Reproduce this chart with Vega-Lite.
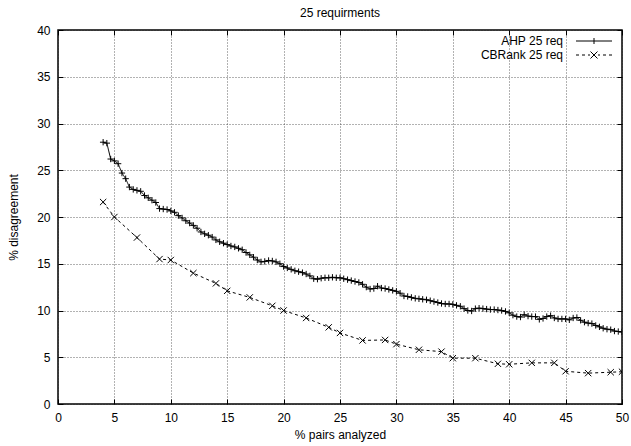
{
  "$schema": "https://vega.github.io/schema/vega-lite/v6.json",
  "width": 564,
  "height": 374,
  "autosize": "none",
  "padding": {"left": 58, "top": 30, "right": 9, "bottom": 42},
  "background": "white",
  "title": {"text": "25 requirments", "font": "Liberation Sans", "fontSize": 12, "fontWeight": "normal", "color": "black", "offset": 4, "frame": "group"},
  "config": {
    "font": "Liberation Sans",
    "view": {"stroke": "black", "strokeWidth": 1.5},
    "axis": {
      "labelFont": "Liberation Sans", "labelFontSize": 12, "labelColor": "black",
      "titleFont": "Liberation Sans", "titleFontSize": 12, "titleFontWeight": "normal", "titleColor": "black",
      "domain": false, "tickColor": "black", "tickWidth": 1, "tickSize": -5,
      "gridColor": "#222", "gridDash": [1, 2], "gridWidth": 0.7
    }
  },
  "resolve": {"scale": {"shape": "independent"}},
  "data": {"values": [
    {"x": 4.0, "y": 28.0, "s": "AHP 25 req"},
    {"x": 4.33, "y": 27.9, "s": "AHP 25 req"},
    {"x": 4.67, "y": 26.2, "s": "AHP 25 req"},
    {"x": 5.0, "y": 26.0, "s": "AHP 25 req"},
    {"x": 5.33, "y": 25.7, "s": "AHP 25 req"},
    {"x": 5.67, "y": 24.7, "s": "AHP 25 req"},
    {"x": 6.0, "y": 24.1, "s": "AHP 25 req"},
    {"x": 6.33, "y": 23.2, "s": "AHP 25 req"},
    {"x": 6.67, "y": 22.95, "s": "AHP 25 req"},
    {"x": 7.0, "y": 22.85, "s": "AHP 25 req"},
    {"x": 7.33, "y": 22.75, "s": "AHP 25 req"},
    {"x": 7.67, "y": 22.3, "s": "AHP 25 req"},
    {"x": 8.0, "y": 22.05, "s": "AHP 25 req"},
    {"x": 8.33, "y": 21.8, "s": "AHP 25 req"},
    {"x": 8.67, "y": 21.55, "s": "AHP 25 req"},
    {"x": 9.0, "y": 20.9, "s": "AHP 25 req"},
    {"x": 9.33, "y": 20.85, "s": "AHP 25 req"},
    {"x": 9.67, "y": 20.8, "s": "AHP 25 req"},
    {"x": 10.0, "y": 20.65, "s": "AHP 25 req"},
    {"x": 10.33, "y": 20.5, "s": "AHP 25 req"},
    {"x": 10.67, "y": 20.15, "s": "AHP 25 req"},
    {"x": 11.0, "y": 19.9, "s": "AHP 25 req"},
    {"x": 11.33, "y": 19.6, "s": "AHP 25 req"},
    {"x": 11.67, "y": 19.35, "s": "AHP 25 req"},
    {"x": 12.0, "y": 19.1, "s": "AHP 25 req"},
    {"x": 12.33, "y": 18.8, "s": "AHP 25 req"},
    {"x": 12.67, "y": 18.4, "s": "AHP 25 req"},
    {"x": 13.0, "y": 18.2, "s": "AHP 25 req"},
    {"x": 13.33, "y": 18.05, "s": "AHP 25 req"},
    {"x": 13.67, "y": 17.85, "s": "AHP 25 req"},
    {"x": 14.0, "y": 17.55, "s": "AHP 25 req"},
    {"x": 14.33, "y": 17.35, "s": "AHP 25 req"},
    {"x": 14.67, "y": 17.2, "s": "AHP 25 req"},
    {"x": 15.0, "y": 17.05, "s": "AHP 25 req"},
    {"x": 15.33, "y": 16.9, "s": "AHP 25 req"},
    {"x": 15.67, "y": 16.8, "s": "AHP 25 req"},
    {"x": 16.0, "y": 16.65, "s": "AHP 25 req"},
    {"x": 16.33, "y": 16.5, "s": "AHP 25 req"},
    {"x": 16.67, "y": 16.2, "s": "AHP 25 req"},
    {"x": 17.0, "y": 15.95, "s": "AHP 25 req"},
    {"x": 17.33, "y": 15.7, "s": "AHP 25 req"},
    {"x": 17.67, "y": 15.4, "s": "AHP 25 req"},
    {"x": 18.0, "y": 15.2, "s": "AHP 25 req"},
    {"x": 18.33, "y": 15.25, "s": "AHP 25 req"},
    {"x": 18.67, "y": 15.35, "s": "AHP 25 req"},
    {"x": 19.0, "y": 15.3, "s": "AHP 25 req"},
    {"x": 19.33, "y": 15.2, "s": "AHP 25 req"},
    {"x": 19.67, "y": 15.0, "s": "AHP 25 req"},
    {"x": 20.0, "y": 14.7, "s": "AHP 25 req"},
    {"x": 20.33, "y": 14.55, "s": "AHP 25 req"},
    {"x": 20.67, "y": 14.4, "s": "AHP 25 req"},
    {"x": 21.0, "y": 14.25, "s": "AHP 25 req"},
    {"x": 21.33, "y": 14.15, "s": "AHP 25 req"},
    {"x": 21.67, "y": 14.05, "s": "AHP 25 req"},
    {"x": 22.0, "y": 13.9, "s": "AHP 25 req"},
    {"x": 22.33, "y": 13.7, "s": "AHP 25 req"},
    {"x": 22.67, "y": 13.4, "s": "AHP 25 req"},
    {"x": 23.0, "y": 13.35, "s": "AHP 25 req"},
    {"x": 23.33, "y": 13.45, "s": "AHP 25 req"},
    {"x": 23.67, "y": 13.5, "s": "AHP 25 req"},
    {"x": 24.0, "y": 13.5, "s": "AHP 25 req"},
    {"x": 24.33, "y": 13.55, "s": "AHP 25 req"},
    {"x": 24.67, "y": 13.5, "s": "AHP 25 req"},
    {"x": 25.0, "y": 13.5, "s": "AHP 25 req"},
    {"x": 25.33, "y": 13.4, "s": "AHP 25 req"},
    {"x": 25.67, "y": 13.3, "s": "AHP 25 req"},
    {"x": 26.0, "y": 13.2, "s": "AHP 25 req"},
    {"x": 26.33, "y": 13.1, "s": "AHP 25 req"},
    {"x": 26.67, "y": 13.0, "s": "AHP 25 req"},
    {"x": 27.0, "y": 12.8, "s": "AHP 25 req"},
    {"x": 27.33, "y": 12.5, "s": "AHP 25 req"},
    {"x": 27.67, "y": 12.3, "s": "AHP 25 req"},
    {"x": 28.0, "y": 12.35, "s": "AHP 25 req"},
    {"x": 28.33, "y": 12.6, "s": "AHP 25 req"},
    {"x": 28.67, "y": 12.4, "s": "AHP 25 req"},
    {"x": 29.0, "y": 12.35, "s": "AHP 25 req"},
    {"x": 29.33, "y": 12.25, "s": "AHP 25 req"},
    {"x": 29.67, "y": 12.15, "s": "AHP 25 req"},
    {"x": 30.0, "y": 12.05, "s": "AHP 25 req"},
    {"x": 30.33, "y": 11.85, "s": "AHP 25 req"},
    {"x": 30.67, "y": 11.55, "s": "AHP 25 req"},
    {"x": 31.0, "y": 11.5, "s": "AHP 25 req"},
    {"x": 31.33, "y": 11.4, "s": "AHP 25 req"},
    {"x": 31.67, "y": 11.3, "s": "AHP 25 req"},
    {"x": 32.0, "y": 11.25, "s": "AHP 25 req"},
    {"x": 32.33, "y": 11.2, "s": "AHP 25 req"},
    {"x": 32.67, "y": 11.15, "s": "AHP 25 req"},
    {"x": 33.0, "y": 11.05, "s": "AHP 25 req"},
    {"x": 33.33, "y": 10.95, "s": "AHP 25 req"},
    {"x": 33.67, "y": 10.85, "s": "AHP 25 req"},
    {"x": 34.0, "y": 10.75, "s": "AHP 25 req"},
    {"x": 34.33, "y": 10.7, "s": "AHP 25 req"},
    {"x": 34.67, "y": 10.7, "s": "AHP 25 req"},
    {"x": 35.0, "y": 10.65, "s": "AHP 25 req"},
    {"x": 35.33, "y": 10.55, "s": "AHP 25 req"},
    {"x": 35.67, "y": 10.45, "s": "AHP 25 req"},
    {"x": 36.0, "y": 10.2, "s": "AHP 25 req"},
    {"x": 36.33, "y": 10.0, "s": "AHP 25 req"},
    {"x": 36.67, "y": 9.95, "s": "AHP 25 req"},
    {"x": 37.0, "y": 10.2, "s": "AHP 25 req"},
    {"x": 37.33, "y": 10.25, "s": "AHP 25 req"},
    {"x": 37.67, "y": 10.2, "s": "AHP 25 req"},
    {"x": 38.0, "y": 10.15, "s": "AHP 25 req"},
    {"x": 38.33, "y": 10.1, "s": "AHP 25 req"},
    {"x": 38.67, "y": 10.1, "s": "AHP 25 req"},
    {"x": 39.0, "y": 10.05, "s": "AHP 25 req"},
    {"x": 39.33, "y": 10.0, "s": "AHP 25 req"},
    {"x": 39.67, "y": 9.9, "s": "AHP 25 req"},
    {"x": 40.0, "y": 9.75, "s": "AHP 25 req"},
    {"x": 40.33, "y": 9.5, "s": "AHP 25 req"},
    {"x": 40.67, "y": 9.35, "s": "AHP 25 req"},
    {"x": 41.0, "y": 9.3, "s": "AHP 25 req"},
    {"x": 41.33, "y": 9.55, "s": "AHP 25 req"},
    {"x": 41.67, "y": 9.4, "s": "AHP 25 req"},
    {"x": 42.0, "y": 9.35, "s": "AHP 25 req"},
    {"x": 42.33, "y": 9.35, "s": "AHP 25 req"},
    {"x": 42.67, "y": 9.05, "s": "AHP 25 req"},
    {"x": 43.0, "y": 9.15, "s": "AHP 25 req"},
    {"x": 43.33, "y": 9.35, "s": "AHP 25 req"},
    {"x": 43.67, "y": 9.45, "s": "AHP 25 req"},
    {"x": 44.0, "y": 9.2, "s": "AHP 25 req"},
    {"x": 44.33, "y": 9.1, "s": "AHP 25 req"},
    {"x": 44.67, "y": 9.1, "s": "AHP 25 req"},
    {"x": 45.0, "y": 9.1, "s": "AHP 25 req"},
    {"x": 45.33, "y": 9.0, "s": "AHP 25 req"},
    {"x": 45.67, "y": 9.2, "s": "AHP 25 req"},
    {"x": 46.0, "y": 9.25, "s": "AHP 25 req"},
    {"x": 46.33, "y": 8.95, "s": "AHP 25 req"},
    {"x": 46.67, "y": 8.75, "s": "AHP 25 req"},
    {"x": 47.0, "y": 8.65, "s": "AHP 25 req"},
    {"x": 47.33, "y": 8.6, "s": "AHP 25 req"},
    {"x": 47.67, "y": 8.4, "s": "AHP 25 req"},
    {"x": 48.0, "y": 8.25, "s": "AHP 25 req"},
    {"x": 48.33, "y": 8.1, "s": "AHP 25 req"},
    {"x": 48.67, "y": 8.0, "s": "AHP 25 req"},
    {"x": 49.0, "y": 7.95, "s": "AHP 25 req"},
    {"x": 49.33, "y": 7.8, "s": "AHP 25 req"},
    {"x": 49.67, "y": 7.75, "s": "AHP 25 req"},
    {"x": 50.0, "y": 7.7, "s": "AHP 25 req"},
    {"x": 4, "y": 21.6, "s": "CBRank 25 req"},
    {"x": 5, "y": 20.0, "s": "CBRank 25 req"},
    {"x": 7, "y": 17.8, "s": "CBRank 25 req"},
    {"x": 9, "y": 15.5, "s": "CBRank 25 req"},
    {"x": 10, "y": 15.4, "s": "CBRank 25 req"},
    {"x": 12, "y": 14.0, "s": "CBRank 25 req"},
    {"x": 14, "y": 12.9, "s": "CBRank 25 req"},
    {"x": 15, "y": 12.1, "s": "CBRank 25 req"},
    {"x": 17, "y": 11.4, "s": "CBRank 25 req"},
    {"x": 19, "y": 10.5, "s": "CBRank 25 req"},
    {"x": 20, "y": 10.0, "s": "CBRank 25 req"},
    {"x": 22, "y": 9.2, "s": "CBRank 25 req"},
    {"x": 24, "y": 8.2, "s": "CBRank 25 req"},
    {"x": 25, "y": 7.6, "s": "CBRank 25 req"},
    {"x": 27, "y": 6.8, "s": "CBRank 25 req"},
    {"x": 29, "y": 6.85, "s": "CBRank 25 req"},
    {"x": 30, "y": 6.4, "s": "CBRank 25 req"},
    {"x": 32, "y": 5.8, "s": "CBRank 25 req"},
    {"x": 34, "y": 5.6, "s": "CBRank 25 req"},
    {"x": 35, "y": 4.9, "s": "CBRank 25 req"},
    {"x": 37, "y": 4.9, "s": "CBRank 25 req"},
    {"x": 39, "y": 4.3, "s": "CBRank 25 req"},
    {"x": 40, "y": 4.25, "s": "CBRank 25 req"},
    {"x": 42, "y": 4.4, "s": "CBRank 25 req"},
    {"x": 44, "y": 4.4, "s": "CBRank 25 req"},
    {"x": 45, "y": 3.5, "s": "CBRank 25 req"},
    {"x": 47, "y": 3.3, "s": "CBRank 25 req"},
    {"x": 49, "y": 3.4, "s": "CBRank 25 req"},
    {"x": 50, "y": 3.45, "s": "CBRank 25 req"}
  ]},
  "layer": [
    {
      "mark": {"type": "line", "color": "black", "strokeWidth": 1, "clip": true},
      "encoding": {
        "x": {"field": "x", "type": "quantitative", "scale": {"domain": [0, 50], "nice": false},
              "axis": {"orient": "bottom", "values": [0,5,10,15,20,25,30,35,40,45,50], "title": "% pairs analyzed", "grid": true, "labelPadding": 13, "titlePadding": 6, "labelFlush": false}},
        "y": {"field": "y", "type": "quantitative", "scale": {"domain": [0, 40], "nice": false},
              "axis": {"orient": "left", "values": [0,5,10,15,20,25,30,35,40], "title": "% disagreement", "grid": true, "labelPadding": 13, "titlePadding": 16}},
        "strokeDash": {"field": "s", "type": "nominal",
          "scale": {"domain": ["AHP 25 req", "CBRank 25 req"], "range": [[1, 0], [3, 3]]},
          "legend": null
        }
      }
    },
    {
      "mark": {"type": "point", "filled": false, "color": "black", "strokeWidth": 1, "opacity": 1, "clip": true},
      "encoding": {
        "x": {"field": "x", "type": "quantitative", "axis": {"orient": "top", "values": [0,5,10,15,20,25,30,35,40,45,50], "labels": false, "title": null, "grid": false}},
        "y": {"field": "y", "type": "quantitative", "axis": {"orient": "right", "values": [0,5,10,15,20,25,30,35,40], "labels": false, "title": null, "grid": false}},
        "shape": {"field": "s", "type": "nominal",
          "scale": {"domain": ["AHP 25 req", "CBRank 25 req"], "range": ["M-1,0H1M0,-1V1", "M-1,-1L1,1M-1,1L1,-1"]},
          "legend": null},
        "size": {"value": 40}
      }
    },
    {
      "transform": [{"filter": "false"}],
      "mark": {"type": "point", "filled": false, "color": "black", "strokeWidth": 1},
      "encoding": {
        "x": {"field": "x", "type": "quantitative", "axis": null},
        "y": {"field": "y", "type": "quantitative", "axis": null},
        "shape": {"field": "s", "type": "nominal",
          "scale": {"domain": ["AHP 25 req", "CBRank 25 req"],
                    "range": ["M-3.6,0H3.6M0,-0.6V0.6", "M-3.6,0H-3.0M-2.4,0H-1.8M-1.2,0H-0.8M0.8,0H1.2M1.8,0H2.4M3.0,0H3.6M-0.7,-0.7L0.7,0.7M-0.7,0.7L0.7,-0.7"]},
          "legend": {"title": null, "orient": "none", "legendX": 530, "legendY": 5,
            "labelAlign": "right", "labelOffset": -37, "labelFont": "Liberation Sans", "labelFontSize": 12, "labelColor": "black",
            "symbolSize": 100, "symbolStrokeWidth": 1, "symbolStrokeColor": "black", "symbolOpacity": 1, "symbolFillColor": "transparent", "rowPadding": 2}
        }
      }
    }
  ]
}
